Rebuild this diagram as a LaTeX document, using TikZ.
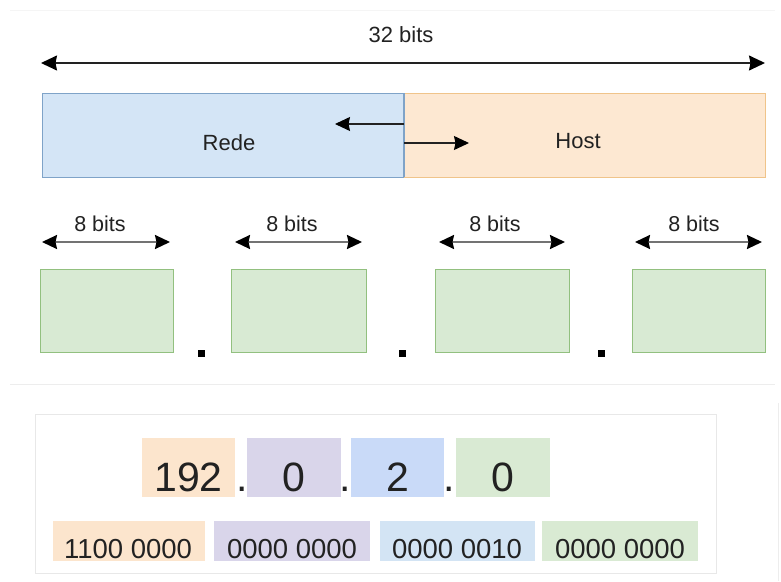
\documentclass[tikz,border=0pt]{standalone}
\usepackage{fontspec}
\setmainfont{Liberation Sans}
\usetikzlibrary{arrows.meta}
\definecolor{txt}{HTML}{222222}
\definecolor{bluefill}{HTML}{D4E5F6}
\definecolor{bluedraw}{HTML}{7FA3C8}
\definecolor{orfill}{HTML}{FDE8D2}
\definecolor{ordraw}{HTML}{F0C48A}
\definecolor{grfill}{HTML}{D8EAD3}
\definecolor{grdraw}{HTML}{92C07F}
\definecolor{nOr}{HTML}{FCE5CD}
\definecolor{nPu}{HTML}{D9D5EA}
\definecolor{nBl}{HTML}{C9DAF8}
\definecolor{nBl2}{HTML}{D3E4F4}
\definecolor{nGr}{HTML}{D9EAD3}
\begin{document}
\begin{tikzpicture}[x=1pt,y=-1pt,
  lbl/.style={font=\fontsize{22}{24}\selectfont, text=txt, anchor=base, inner sep=0pt},
  bignum/.style={font=\fontsize{41}{44}\selectfont, text=txt, anchor=base, inner sep=0pt},
  binnum/.style={font=\fontsize{27.5}{30}\selectfont, text=txt, anchor=base, inner sep=0pt},
  tipbig/.tip={Stealth[length=16pt,width=15pt,inset=1.5pt,color=black]},
  tipmid/.tip={Stealth[length=15pt,width=14pt,inset=1.5pt,color=black]},
  dimarrow/.style={line width=1.5pt, draw=txt, tipbig-tipbig},
  bytearrow/.style={line width=2pt, draw=black!55, tipmid-tipmid},
  splitarrow/.style={line width=1.1pt, draw=txt, -tipmid},
  bytebox/.style={draw=grdraw, fill=grfill, line width=1pt},
  sepdot/.style={fill=black, draw=none},
  faint/.style={draw=black!7, line width=0.8pt}
]
\useasboundingbox (0,0) rectangle (781,581);
\fill[white] (0,0) rectangle (781,581);

% faint frame lines
\draw[faint, draw=black!4] (10,10) -- (775,10);
\draw[faint] (10,384) -- (775,384);
\draw[faint] (778,403) -- (778,581);

% top dimension
\coordinate (tL) at (41,63);
\coordinate (tR) at (765,63);
\draw[dimarrow] (tL) -- (tR);
\node[lbl] (t32) at (401,42) {32 bits};

% Rede / Host
\node[draw=bluedraw, fill=bluefill, line width=1pt, minimum width=362pt, minimum height=84pt, inner sep=0pt] (rede) at (223,135) {};
\node[draw=ordraw, fill=orfill, line width=1pt, minimum width=361pt, minimum height=84pt, inner sep=0pt] (host) at (584.5,135) {};
\draw[bluedraw, line width=1.2pt] (404,93) -- (404,177);
\node[lbl] (redetxt) at (229,150) {Rede};
\node[lbl] (hosttxt) at (578,148) {Host};
\coordinate (sL0) at (404,124);
\coordinate (sL1) at (335,124);
\coordinate (sR0) at (404,143);
\coordinate (sR1) at (469,143);
\draw[splitarrow] (sL0) -- (sL1);
\draw[splitarrow] (sR0) -- (sR1);

% bytes
\foreach \i/\xa/\xb/\ba/\bb/\lx in {1/40/173/42/170/100, 2/231/366/235/362/292, 3/435/569/439/565/495, 4/632/765/635/762/694}{
  \node[bytebox, minimum width=\xb pt-\xa pt, minimum height=83pt, inner sep=0pt] (b\i) at ({(\xa+\xb)/2},310.5) {};
  \coordinate (a\i L) at (\ba,242);
  \coordinate (a\i R) at (\bb,242);
  \draw[bytearrow] (a\i L) -- (a\i R);
  \node[lbl, font=\fontsize{21.5}{24}\selectfont] (l\i) at (\lx,231) {8 bits};
}
\foreach \i/\x in {1/201,2/402,3/601}{
  \node[sepdot, minimum size=7pt, inner sep=0pt] (d\i) at (\x,353) {};
}

% bottom panel
\node[draw=black!9, line width=0.8pt, fill=white, minimum width=681pt, minimum height=159pt, inner sep=0pt] (panel) at (375.5,493.5) {};

\fill[nOr] (142,438) rectangle (235,497);
\fill[nPu] (247,438) rectangle (341,497);
\fill[nBl] (351,438) rectangle (444,497);
\fill[nGr] (456,438) rectangle (550,497);
\node[bignum] (n1) at (188.5,491) {192};
\node[bignum] (n2) at (294,491) {0};
\node[bignum] (n3) at (397.5,491) {2};
\node[bignum] (n4) at (503,491) {0};
\node[bignum] (p1) at (242,491) {.};
\node[bignum] (p2) at (345.5,491) {.};
\node[bignum] (p3) at (449.5,491) {.};

\fill[nOr] (53,521) rectangle (205,561);
\fill[nPu] (214,521) rectangle (370,561);
\fill[nBl2] (380,521) rectangle (535,561);
\fill[nGr] (542,521) rectangle (698,561);
\node[binnum] (bn1) at (128,558) {1100 0000};
\node[binnum] (bn2) at (292,558) {0000 0000};
\node[binnum] (bn3) at (457,558) {0000 0010};
\node[binnum] (bn4) at (620,558) {0000 0000};
\end{tikzpicture}
\end{document}
